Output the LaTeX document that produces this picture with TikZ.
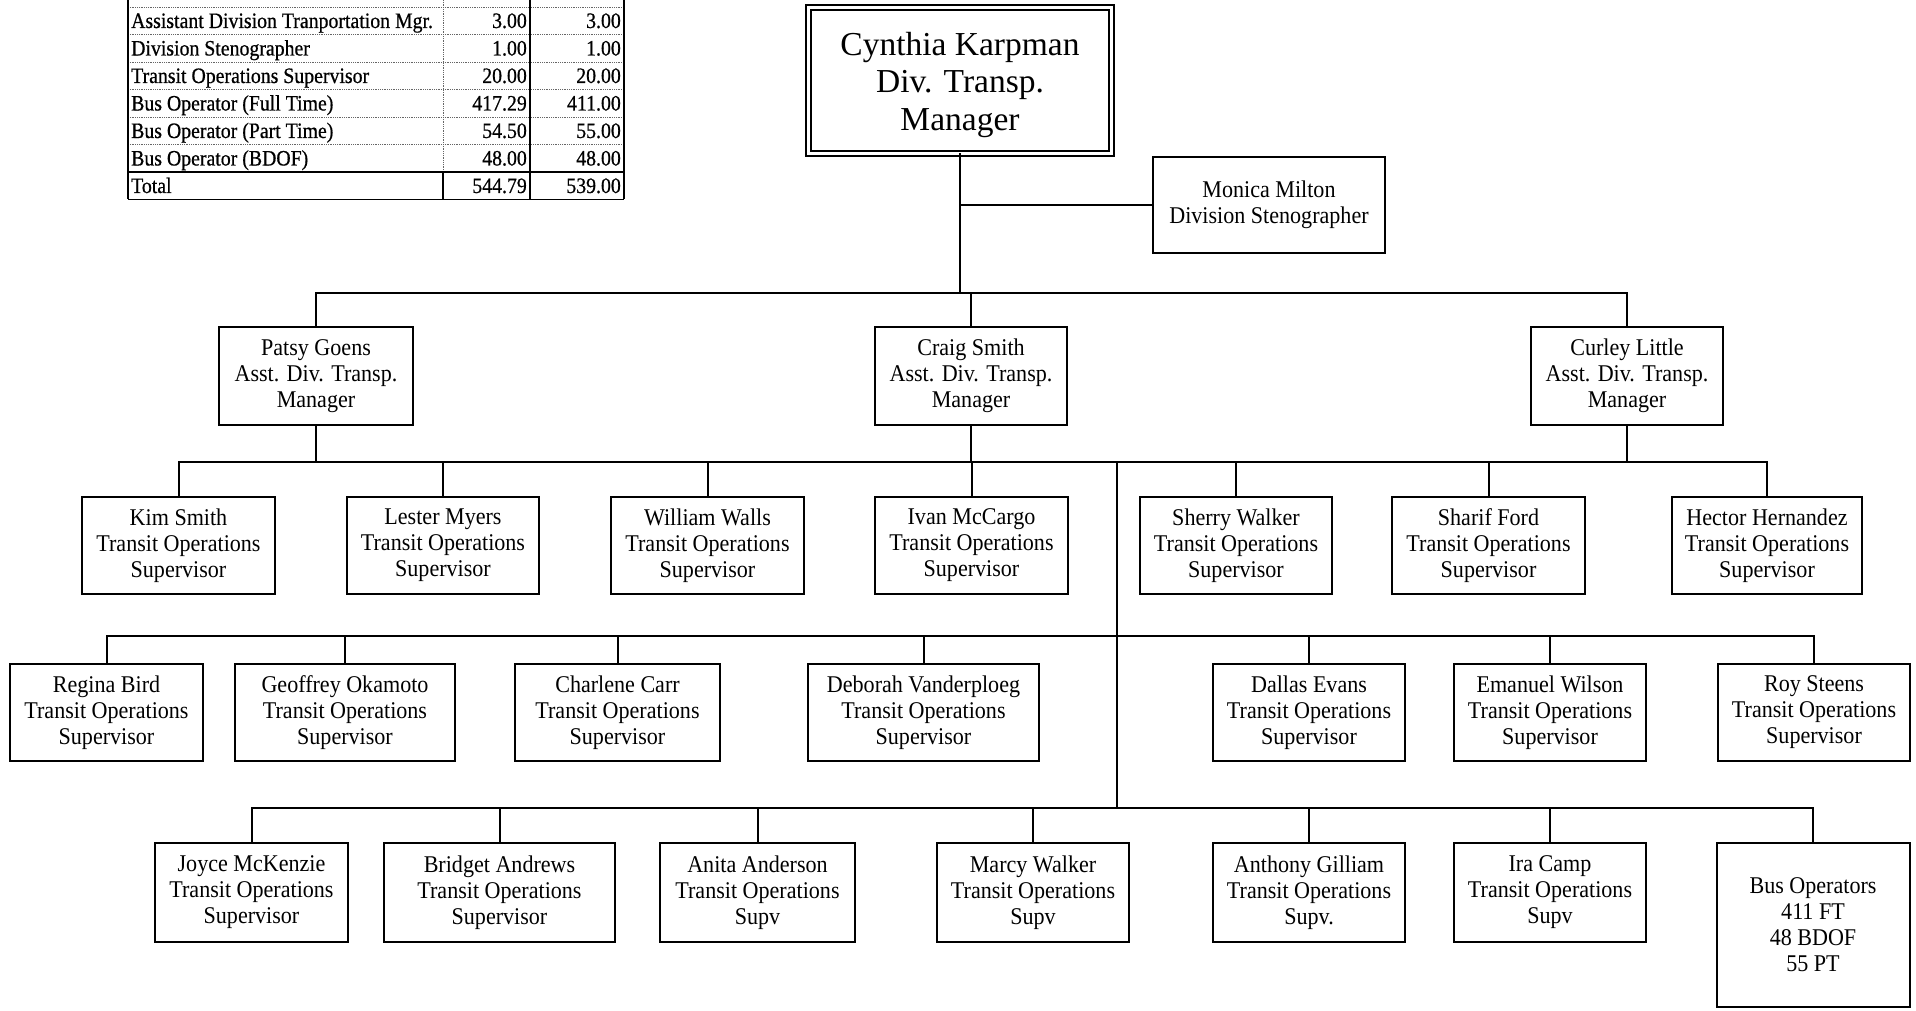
\documentclass[tikz,border=0pt]{standalone}
\usepackage{fontspec}
\setmainfont{Liberation Serif}
\newfontfamily\chartfont[FakeStretch=0.92]{Liberation Serif}
\newfontfamily\tabfont[FakeStretch=0.9,FakeBold=0.6]{Liberation Serif}
\begin{document}
\begin{tikzpicture}[x=1pt,y=-1pt,
  box/.style={draw, line width=2pt, inner sep=0pt, align=center, font=\chartfont\fontsize{24}{26}\selectfont},
  conn/.style={line width=2pt, line cap=rect},
  tline/.style={line width=1.6pt},
  tdot/.style={line width=0.8pt, densely dotted, black!60},
  ttext/.style={inner sep=0pt, font=\tabfont\fontsize{22}{24}\selectfont}]

\useasboundingbox (0,0) rectangle (1916,1011);
\fill[white] (0,0) rectangle (1916,1011);

% ---------- table ----------
\foreach \y in {7,34.5,62,89.5,117,144.5} \draw[tdot] (128,\y) -- (624,\y);
\draw[tdot] (443,0) -- (443,172);
\draw[tline] (443,172) -- (443,199.5);
\draw[tline] (128,0) -- (128,199.5);
\draw[tline] (530,0) -- (530,199.5);
\draw[tline] (624,0) -- (624,199.5);
\draw[tline] (128,172) -- (624,172);
\draw[tline] (128,199.5) -- (624,199.5);

\node[ttext, anchor=base west] (t1a) at (131,28) {Assistant Division Tranportation Mgr.};
\node[ttext, anchor=base east] (t1b) at (527,28) {3.00};
\node[ttext, anchor=base east] (t1c) at (621,28) {3.00};
\node[ttext, anchor=base west] (t2a) at (131,55.5) {Division Stenographer};
\node[ttext, anchor=base east] (t2b) at (527,55.5) {1.00};
\node[ttext, anchor=base east] (t2c) at (621,55.5) {1.00};
\node[ttext, anchor=base west] (t3a) at (131,83) {Transit Operations Supervisor};
\node[ttext, anchor=base east] (t3b) at (527,83) {20.00};
\node[ttext, anchor=base east] (t3c) at (621,83) {20.00};
\node[ttext, anchor=base west] (t4a) at (131,110.5) {Bus Operator (Full Time)};
\node[ttext, anchor=base east] (t4b) at (527,110.5) {417.29};
\node[ttext, anchor=base east] (t4c) at (621,110.5) {411.00};
\node[ttext, anchor=base west] (t5a) at (131,138) {Bus Operator (Part Time)};
\node[ttext, anchor=base east] (t5b) at (527,138) {54.50};
\node[ttext, anchor=base east] (t5c) at (621,138) {55.00};
\node[ttext, anchor=base west] (t6a) at (131,165.5) {Bus Operator (BDOF)};
\node[ttext, anchor=base east] (t6b) at (527,165.5) {48.00};
\node[ttext, anchor=base east] (t6c) at (621,165.5) {48.00};
\node[ttext, anchor=base west] (t7a) at (131,193) {Total};
\node[ttext, anchor=base east] (t7b) at (527,193) {544.79};
\node[ttext, anchor=base east] (t7c) at (621,193) {539.00};

% ---------- org chart ----------
\node[draw, double, line width=1.8pt, double distance=3pt, minimum width=303pt, minimum height=146pt] (cyn) at (960,80.5) {};
\node[inner sep=0pt, align=center, font=\fontsize{33.5}{37.5}\selectfont] (cyntext) at ([yshift=-4pt]cyn.center) {Cynthia Karpman\\Div. Transp.\\Manager};
\node[box, minimum width=232pt, minimum height=96pt] (mon) at (1269,205) {Monica Milton\\Division Stenographer};

\node[box, minimum width=194pt, minimum height=98pt] (patsy) at (316,376) {Patsy Goens\\Asst. Div. Transp.\\Manager};
\node[box, minimum width=192pt, minimum height=98pt] (craig) at (971,376) {Craig Smith\\Asst. Div. Transp.\\Manager};
\node[box, minimum width=192pt, minimum height=98pt] (curley) at (1627,376) {Curley Little\\Asst. Div. Transp.\\Manager};

\node[box, minimum width=193pt, minimum height=97pt] (kim) at (178.5,545.5) {Kim Smith\\Transit Operations\\Supervisor};
\node[box, minimum width=192pt, minimum height=97pt] (lester) at (443,545.5) {Lester Myers\\Transit Operations\\Supervisor};
\node[box, minimum width=193pt, minimum height=97pt] (william) at (707.5,545.5) {William Walls\\Transit Operations\\Supervisor};
\node[box, minimum width=193pt, minimum height=97pt] (ivan) at (971.5,545.5) {Ivan McCargo\\Transit Operations\\Supervisor};
\node[box, minimum width=192pt, minimum height=97pt] (sherry) at (1236,545.5) {Sherry Walker\\Transit Operations\\Supervisor};
\node[box, minimum width=193pt, minimum height=97pt] (sharif) at (1488.5,545.5) {Sharif Ford\\Transit Operations\\Supervisor};
\node[box, minimum width=190pt, minimum height=97pt] (hector) at (1767,545.5) {Hector Hernandez\\Transit Operations\\Supervisor};

\node[box, minimum width=193pt, minimum height=97pt] (regina) at (106.5,712.5) {Regina Bird\\Transit Operations\\Supervisor};
\node[box, minimum width=220pt, minimum height=97pt] (geoffrey) at (345,712.5) {Geoffrey Okamoto\\Transit Operations\\Supervisor};
\node[box, minimum width=205pt, minimum height=97pt] (charlene) at (617.5,712.5) {Charlene Carr\\Transit Operations\\Supervisor};
\node[box, minimum width=231pt, minimum height=97pt] (deborah) at (923.5,712.5) {Deborah Vanderploeg\\Transit Operations\\Supervisor};
\node[box, minimum width=192pt, minimum height=97pt] (dallas) at (1309,712.5) {Dallas Evans\\Transit Operations\\Supervisor};
\node[box, minimum width=192pt, minimum height=97pt] (emanuel) at (1550,712.5) {Emanuel Wilson\\Transit Operations\\Supervisor};
\node[box, minimum width=192pt, minimum height=97pt] (roy) at (1814,712.5) {Roy Steens\\Transit Operations\\Supervisor};

\node[box, minimum width=193pt, minimum height=99pt] (joyce) at (251.5,892.5) {Joyce McKenzie\\Transit Operations\\Supervisor};
\node[box, minimum width=231pt, minimum height=99pt] (bridget) at (499.5,892.5) {Bridget Andrews\\Transit Operations\\Supervisor};
\node[box, minimum width=195pt, minimum height=99pt] (anita) at (757.5,892.5) {Anita Anderson\\Transit Operations\\Supv};
\node[box, minimum width=192pt, minimum height=99pt] (marcy) at (1033,892.5) {Marcy Walker\\Transit Operations\\Supv};
\node[box, minimum width=192pt, minimum height=99pt] (anthony) at (1309,892.5) {Anthony Gilliam\\Transit Operations\\Supv.};
\node[box, minimum width=192pt, minimum height=99pt] (ira) at (1550,892.5) {Ira Camp\\Transit Operations\\Supv};
\node[box, minimum width=193pt, minimum height=164pt] (bus) at (1813,925) {Bus Operators\\411 FT\\48 BDOF\\55 PT};

% ---------- connectors ----------
\coordinate (L1) at (0,293);
\coordinate (L2) at (0,462);
\coordinate (L3) at (0,636);
\coordinate (L4) at (0,808);
\coordinate (T) at (1117,462);

\draw[conn] (cyn.south) -- (cyn.south |- L1);
\draw[conn] (cyn.south |- mon.west) -- (mon.west);
\draw[conn] (patsy.north |- L1) -- (curley.north |- L1);
\foreach \n in {patsy,craig,curley} {
  \draw[conn] (\n.north) -- (\n.north |- L1);
  \draw[conn] (\n.south) -- (\n.south |- L2);
}
\draw[conn] (kim.north |- L2) -- (hector.north |- L2);
\foreach \n in {kim,lester,william,ivan,sherry,sharif,hector}
  \draw[conn] (\n.north) -- (\n.north |- L2);
\draw[conn] (T) -- (T |- L4);
\draw[conn] (regina.north |- L3) -- (roy.north |- L3);
\foreach \n in {regina,geoffrey,charlene,deborah,dallas,emanuel,roy}
  \draw[conn] (\n.north) -- (\n.north |- L3);
\draw[conn] (joyce.north |- L4) -- (bus.north |- L4);
\foreach \n in {joyce,bridget,anita,marcy,anthony,ira,bus}
  \draw[conn] (\n.north) -- (\n.north |- L4);
\end{tikzpicture}
\end{document}
